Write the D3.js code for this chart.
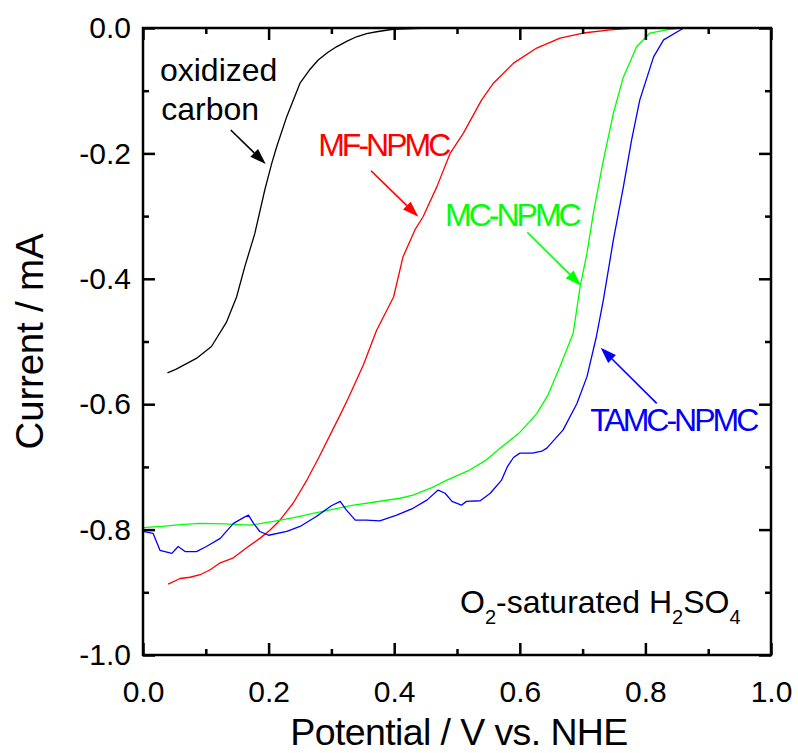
<!DOCTYPE html>
<html>
<head>
<meta charset="utf-8">
<script src="https://cdn.jsdelivr.net/npm/d3@7"></script>
<style>
  html, body { margin: 0; padding: 0; background: #fff; }
  svg text { font-family: "Liberation Sans", Arial, Helvetica, sans-serif; }
</style>
</head>
<body>
<svg id="chart" width="798" height="753"></svg>
<script>
// ---------- data (Potential V vs NHE, Current mA) ----------
const xTicks = [0.0, 0.2, 0.4, 0.6, 0.8, 1.0];
const xTickLabels = ["0.0", "0.2", "0.4", "0.6", "0.8", "1.0"];
const yTicks = [0.0, -0.2, -0.4, -0.6, -0.8, -1.0];
const yTickLabels = ["0.0", "-0.2", "-0.4", "-0.6", "-0.8", "-1.0"];

const oxCarbonV = [0.039,0.053,0.085,0.109,0.133,0.149,0.162,0.178,0.194,0.205,0.213,0.229,0.250,0.265,0.279,0.294,0.308,0.325,0.340,0.356,0.372,0.398,0.430,0.457];
const oxCarbonI = [-0.550,-0.544,-0.527,-0.508,-0.469,-0.429,-0.381,-0.328,-0.258,-0.216,-0.189,-0.141,-0.088,-0.067,-0.051,-0.039,-0.030,-0.021,-0.014,-0.009,-0.006,-0.002,-0.001,0];

const mfV = [0.040,0.059,0.075,0.091,0.107,0.123,0.144,0.165,0.186,0.202,0.218,0.239,0.261,0.280,0.300,0.315,0.327,0.351,0.372,0.399,0.414,0.433,0.446,0.468,0.489,0.510,0.539,0.558,0.590,0.627,0.664,0.701,0.744,0.786,0.830];
const mfI = [-0.887,-0.878,-0.876,-0.872,-0.864,-0.853,-0.845,-0.829,-0.814,-0.801,-0.785,-0.758,-0.721,-0.685,-0.645,-0.615,-0.590,-0.537,-0.482,-0.429,-0.365,-0.322,-0.301,-0.253,-0.200,-0.168,-0.115,-0.088,-0.056,-0.032,-0.016,-0.008,-0.003,0,0];

const mcV = [0,0.030,0.060,0.091,0.130,0.170,0.208,0.240,0.271,0.300,0.335,0.370,0.409,0.430,0.460,0.484,0.520,0.545,0.569,0.600,0.627,0.645,0.664,0.685,0.696,0.707,0.717,0.733,0.749,0.765,0.786,0.807,0.834,0.855];
const mcI = [-0.797,-0.795,-0.792,-0.790,-0.791,-0.793,-0.787,-0.781,-0.774,-0.768,-0.761,-0.756,-0.750,-0.745,-0.733,-0.721,-0.705,-0.690,-0.670,-0.645,-0.615,-0.585,-0.540,-0.487,-0.413,-0.359,-0.296,-0.211,-0.136,-0.078,-0.030,-0.008,-0.003,0];

const tamcV = [0,0.016,0.027,0.046,0.056,0.067,0.085,0.101,0.123,0.144,0.160,0.168,0.176,0.186,0.200,0.229,0.250,0.276,0.300,0.314,0.324,0.338,0.356,0.377,0.404,0.430,0.452,0.470,0.481,0.492,0.507,0.515,0.537,0.553,0.571,0.580,0.590,0.600,0.620,0.635,0.643,0.669,0.691,0.707,0.722,0.733,0.749,0.765,0.778,0.791,0.813,0.829,0.861];
const tamcI = [-0.803,-0.806,-0.833,-0.838,-0.827,-0.835,-0.835,-0.827,-0.814,-0.790,-0.781,-0.777,-0.790,-0.803,-0.809,-0.803,-0.795,-0.779,-0.762,-0.755,-0.769,-0.785,-0.785,-0.786,-0.777,-0.766,-0.753,-0.737,-0.742,-0.755,-0.761,-0.755,-0.754,-0.742,-0.721,-0.700,-0.685,-0.678,-0.678,-0.675,-0.670,-0.641,-0.599,-0.556,-0.492,-0.434,-0.338,-0.253,-0.179,-0.115,-0.046,-0.019,0];

const seriesNames = ["oxidized carbon", "MF-NPMC", "MC-NPMC", "TAMC-NPMC"];
const seriesColors = ["#000000", "#ff0000", "#00ff00", "#0000ff"];

// ---------- layout ----------
const svg = d3.select("#chart");
const L = 143, R = 771, T = 28, B = 655;
const x = d3.scaleLinear().domain([0, 1]).range([L, R]);
const y = d3.scaleLinear().domain([-1, 0]).range([B, T]);
const FONT = '"Liberation Sans", Arial, sans-serif';

// curves
const series = [
  oxCarbonV.map((v, k) => [v, oxCarbonI[k]]),
  mfV.map((v, k) => [v, mfI[k]]),
  mcV.map((v, k) => [v, mcI[k]]),
  tamcV.map((v, k) => [v, tamcI[k]])
];
const line = d3.line().x(d => x(d[0])).y(d => y(d[1]));
svg.append("g").selectAll("path").data(series).join("path")
  .attr("d", line)
  .attr("fill", "none")
  .attr("stroke", (d, k) => seriesColors[k])
  .attr("stroke-width", 1.3)
  .attr("stroke-linejoin", "round");

// ---------- axes (inward ticks, mirrored) ----------
const minorX = d3.range(0.1, 1.0, 0.2);
const minorY = d3.range(-0.1, -1.0, -0.2);
const MAJ = 12, MIN = 6;

function styleAxis(g) {
  g.selectAll(".domain").remove();
  g.selectAll("line").attr("stroke", "#000").attr("stroke-width", 2.5);
  g.selectAll("text").attr("font-family", FONT).attr("font-size", 30).attr("fill", "#000");
}
// bottom
svg.append("g").attr("transform", `translate(0,${B})`)
  .call(d3.axisBottom(x).tickValues(xTicks).tickFormat((d, k) => xTickLabels[k]).tickSize(-MAJ).tickPadding(26))
  .call(styleAxis);
svg.append("g").attr("transform", `translate(0,${B})`)
  .call(d3.axisBottom(x).tickValues(minorX).tickFormat("").tickSize(-MIN))
  .call(styleAxis);
// top
svg.append("g").attr("transform", `translate(0,${T})`)
  .call(d3.axisTop(x).tickValues(xTicks).tickFormat("").tickSize(-MAJ))
  .call(styleAxis);
svg.append("g").attr("transform", `translate(0,${T})`)
  .call(d3.axisTop(x).tickValues(minorX).tickFormat("").tickSize(-MIN))
  .call(styleAxis);
// left
svg.append("g").attr("transform", `translate(${L},0)`)
  .call(d3.axisLeft(y).tickValues(yTicks).tickFormat((d, k) => yTickLabels[k]).tickSize(-MAJ).tickPadding(12))
  .call(styleAxis);
svg.append("g").attr("transform", `translate(${L},0)`)
  .call(d3.axisLeft(y).tickValues(minorY).tickFormat("").tickSize(-MIN))
  .call(styleAxis);
// right
svg.append("g").attr("transform", `translate(${R},0)`)
  .call(d3.axisRight(y).tickValues(yTicks).tickFormat("").tickSize(-MAJ))
  .call(styleAxis);
svg.append("g").attr("transform", `translate(${R},0)`)
  .call(d3.axisRight(y).tickValues(minorY).tickFormat("").tickSize(-MIN))
  .call(styleAxis);

// frame
svg.append("rect").attr("x", L).attr("y", T).attr("width", R - L).attr("height", B - T)
  .attr("fill", "none").attr("stroke", "#000").attr("stroke-width", 2.5);

// axis titles
svg.append("text").attr("x", (L + R) / 2 + 2).attr("y", 745)
  .attr("text-anchor", "middle").attr("font-family", FONT).attr("font-size", 37.5)
  .attr("letter-spacing", -0.6).text("Potential / V vs. NHE");
svg.append("text").attr("transform", `translate(43,${(T + B) / 2}) rotate(-90)`)
  .attr("text-anchor", "middle").attr("font-family", FONT).attr("font-size", 38.5)
  .attr("letter-spacing", -0.2).text("Current / mA");

// ---------- annotations ----------
const labels = [
  { t: "oxidized", v: 0.027, i: -0.085, c: 0, ls: 0 },
  { t: "carbon", v: 0.029, i: -0.147, c: 0, ls: 0 },
  { t: "MF-NPMC", v: 0.279, i: -0.204, c: 1, ls: -3 },
  { t: "MC-NPMC", v: 0.481, i: -0.316, c: 2, ls: -3 },
  { t: "TAMC-NPMC", v: 0.712, i: -0.643, c: 3, ls: -3 }
];
svg.append("g").selectAll("text").data(labels).join("text")
  .attr("x", d => x(d.v)).attr("y", d => y(d.i))
  .attr("font-family", FONT).attr("font-size", 32)
  .attr("letter-spacing", d => d.ls)
  .attr("fill", d => seriesColors[d.c])
  .text(d => d.t);

const arrows = [
  { v0: 0.1397, i0: -0.1627, v1: 0.1954, i1: -0.2169, c: 0 },
  { v0: 0.3631, i0: -0.2276, v1: 0.4384, i1: -0.3010, c: 1 },
  { v0: 0.6120, i0: -0.3258, v1: 0.6975, i1: -0.4110, c: 2 },
  { v0: 0.8180, i0: -0.5986, v1: 0.7288, i1: -0.5099, c: 3 }
];
const ag = svg.append("g");
arrows.forEach(a => {
  const x0 = x(a.v0), y0 = y(a.i0), x1 = x(a.v1), y1 = y(a.i1);
  const ang = Math.atan2(y1 - y0, x1 - x0);
  const hl = 16, hw = 5.5;
  const bx = x1 - hl * Math.cos(ang), by = y1 - hl * Math.sin(ang);
  ag.append("line").attr("x1", x0).attr("y1", y0).attr("x2", bx).attr("y2", by)
    .attr("stroke", seriesColors[a.c]).attr("stroke-width", 1.6);
  const px = -Math.sin(ang), py = Math.cos(ang);
  ag.append("path")
    .attr("d", `M${x1},${y1}L${bx + hw * px},${by + hw * py}L${bx - hw * px},${by - hw * py}Z`)
    .attr("fill", seriesColors[a.c]);
});

// condition label with subscripts
const cond = svg.append("text").attr("x", x(0.5048)).attr("y", y(-0.933))
  .attr("font-family", FONT).attr("font-size", 32).attr("fill", "#000");
const parts = [["O", 0], ["2", 1], ["-saturated H", 0], ["2", 1], ["SO", 0], ["4", 1]];
let prevSub = false;
parts.forEach(([s, sub]) => {
  const ts = cond.append("tspan").text(s);
  if (sub) { ts.attr("font-size", 20).attr("dy", 11); prevSub = true; }
  else if (prevSub) { ts.attr("dy", -11); prevSub = false; }
});
</script>
</body>
</html>
